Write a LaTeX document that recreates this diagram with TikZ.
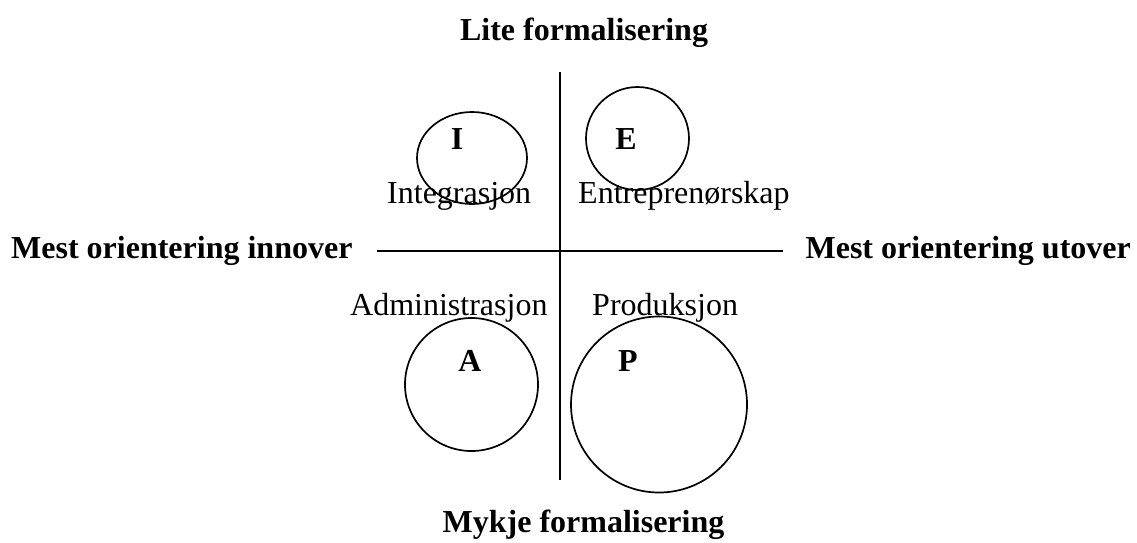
\documentclass[tikz,border=0pt]{standalone}
\usepackage{fontspec}
\setmainfont{Liberation Serif}
\usetikzlibrary{shapes.geometric}
\begin{document}
\begin{tikzpicture}[x=1pt,y=-1pt,
  heading/.style={font=\fontsize{32}{37}\selectfont\bfseries, inner sep=0pt},
  quadlabel/.style={font=\fontsize{32}{37}\selectfont, inner sep=0pt, anchor=base west},
  letter/.style={font=\fontsize{32}{37}\selectfont\bfseries, inner sep=0pt, anchor=base},
  ring/.style={draw, line width=1.7pt, inner sep=0pt},
  axis/.style={line width=1.7pt}]
\useasboundingbox (0,0) rectangle (1137,542);

% axes
\coordinate (top) at (560,72);
\coordinate (bottom) at (560,480);
\coordinate (left) at (377,251);
\coordinate (right) at (783,251);
\draw[axis] (top) -- (bottom);
\draw[axis] (left) -- (right);

% axis headings
\node[heading, anchor=base] (lite) at (584,40) {Lite formalisering};
\node[heading, anchor=base] (mykje) at (583.5,532) {Mykje formalisering};
\node[heading, anchor=base west] (innover) at (11,258) {Mest orientering innover};
\node[heading, anchor=base east] (utover) at (1131,258) {Mest orientering utover};

% the four roles
\node[ring, ellipse, minimum width=110pt, minimum height=92pt] (ringI) at (472,158) {};
\node[ring, circle, minimum size=103pt] (ringE) at (637.5,138.5) {};
\node[ring, circle, minimum size=133pt] (ringA) at (471.5,384.5) {};
\node[ring, circle, minimum size=176pt] (ringP) at (659,404.5) {};

\node[letter] (I) at (457,149) {I};
\node[letter] (E) at (626,149) {E};
\node[letter] (A) at (470,371) {A};
\node[letter] (P) at (628,371) {P};

\node[quadlabel] (integ) at (387,203) {Integrasjon};
\node[quadlabel] (entre) at (578,203) {Entreprenørskap};
\node[quadlabel] (admin) at (350,315) {Administrasjon};
\node[quadlabel] (prod) at (592,315) {Produksjon};
\end{tikzpicture}
\end{document}
